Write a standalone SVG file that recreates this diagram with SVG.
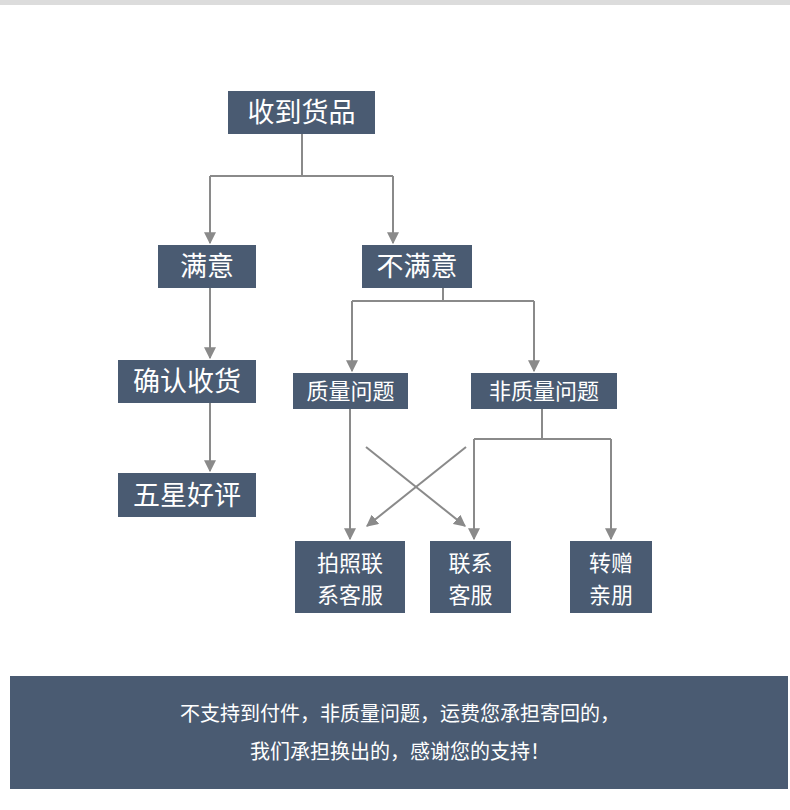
<svg xmlns="http://www.w3.org/2000/svg" width="790" height="810" viewBox="0 0 790 810">
<style>
.b{fill:#4a5b72}
.t{fill:#fff;font-family:"Noto Sans CJK SC","Noto Sans",sans-serif;text-anchor:middle}
.l{stroke:#8a8a8a;stroke-width:2;fill:none}
</style>
<defs><marker id="a" viewBox="0 0 10 10" refX="9" refY="5" markerWidth="6" markerHeight="6" orient="auto" markerUnits="strokeWidth"><path d="M0,0L10,5L0,10z" fill="#8a8a8a"/></marker></defs>
<rect width="790" height="810" fill="#fff"/>
<rect width="790" height="5" fill="#dcdcdc"/>
<g id="connectors">
<path class="l" d="M302,134V176M210,176H393"/>
<path class="l" d="M210,176V243" marker-end="url(#a)"/>
<path class="l" d="M393,176V243" marker-end="url(#a)"/>
<path class="l" d="M210,288V358" marker-end="url(#a)"/>
<path class="l" d="M210,403V471" marker-end="url(#a)"/>
<path class="l" d="M443,288V301M352,301H534"/>
<path class="l" d="M352,301V371" marker-end="url(#a)"/>
<path class="l" d="M534,301V371" marker-end="url(#a)"/>
<path class="l" d="M350,409V539" marker-end="url(#a)"/>
<path class="l" d="M542,409V439M474,439H611"/>
<path class="l" d="M474,439V539" marker-end="url(#a)"/>
<path class="l" d="M611,439V539" marker-end="url(#a)"/>
<path class="l" d="M366,447L465,526" marker-end="url(#a)"/>
<path class="l" d="M466,447L367,526" marker-end="url(#a)"/>
</g>
<g id="n1"><rect class="b" x="228" y="91" width="147" height="43"/><text class="t" x="301.5" y="122" font-size="27">收到货品</text></g>
<g id="n2"><rect class="b" x="158" y="245" width="98" height="43"/><text class="t" x="207" y="276" font-size="27">满意</text></g>
<g id="n3"><rect class="b" x="362" y="245" width="110" height="43"/><text class="t" x="417" y="276" font-size="27">不满意</text></g>
<g id="n4"><rect class="b" x="118" y="360" width="138" height="43"/><text class="t" x="187" y="391" font-size="27">确认收货</text></g>
<g id="n5"><rect class="b" x="118" y="473" width="138" height="44"/><text class="t" x="187" y="505" font-size="27">五星好评</text></g>
<g id="n6"><rect class="b" x="293" y="373" width="115" height="36"/><text class="t" x="350.5" y="399" font-size="22">质量问题</text></g>
<g id="n7"><rect class="b" x="471" y="373" width="146" height="36"/><text class="t" x="544" y="399" font-size="22">非质量问题</text></g>
<g id="n8"><rect class="b" x="295" y="541" width="110" height="72"/><text class="t" x="350" y="571" font-size="22">拍照联</text><text class="t" x="350" y="603" font-size="22">系客服</text></g>
<g id="n9"><rect class="b" x="430" y="541" width="81" height="72"/><text class="t" x="470.5" y="571" font-size="22">联系</text><text class="t" x="470.5" y="603" font-size="22">客服</text></g>
<g id="n10"><rect class="b" x="570" y="541" width="82" height="72"/><text class="t" x="611" y="571" font-size="22">转赠</text><text class="t" x="611" y="603" font-size="22">亲朋</text></g>
<g id="banner"><rect class="b" x="10" y="676" width="778" height="113"/><text class="t" x="400" y="721" font-size="20">不支持到付件，非质量问题，运费您承担寄回的，</text><text class="t" x="400" y="759" font-size="20">我们承担换出的，感谢您的支持！</text></g>
</svg>
